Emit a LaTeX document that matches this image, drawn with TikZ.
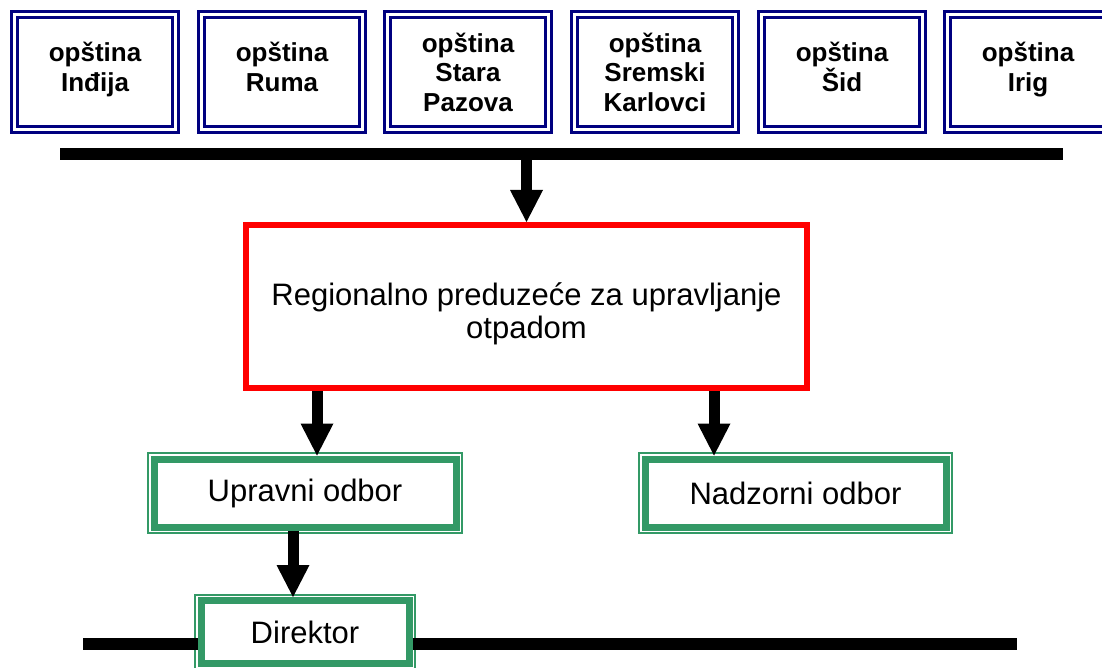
\documentclass[tikz,border=0pt]{standalone}
\usepackage{fontspec}
\setmainfont{Liberation Sans}
\usetikzlibrary{arrows.meta}
\definecolor{tamnoplava}{RGB}{0,0,128}
\definecolor{zelena}{RGB}{51,153,102}
\tikzset{opstina/.style = {shape = rectangle, draw = tamnoplava, line width = 3pt, double = white, double distance = 3pt, minimum width = 161pt, minimum height = 115pt, inner sep = 0pt, align = center, font = \fontsize{26}{29.5}\selectfont\bfseries}}
\tikzset{preduzece/.style = {shape = rectangle, draw = red, line width = 6pt, minimum width = 561pt, minimum height = 163pt, inner sep = 0pt, align = center, text height = 70pt, font = \fontsize{31}{33}\selectfont}}
\tikzset{odbor/.style = {shape = rectangle, draw = zelena, line width = 7pt, inner sep = 0pt, font = \fontsize{31}{34}\selectfont}}
\tikzset{okvir/.style = {draw = zelena, line width = 2pt}}
\tikzset{sabirnica/.style = {line width = 12pt}}
\tikzset{strelica/.style = {line width = 11pt, -{Triangle[width = 33pt, length = 32pt, line width = 0pt]}}}

\begin{document}
\begin{tikzpicture}[x = 1pt, y = -1pt]
			\path[use as bounding box, clip] (0, 0) rectangle (1102, 668);

			\node[opstina, text depth = 10pt] (indjija) at (95, 72) {opština\\Inđija};
			\node[opstina, text depth = 10pt] (ruma) at (282, 72) {opština\\Ruma};
			\node[opstina] (stara) at (468, 72) {opština\\Stara\\Pazova};
			\node[opstina] (sremski) at (655, 72) {opština\\Sremski\\Karlovci};
			\node[opstina, text depth = 10pt] (sid) at (842, 72) {opština\\Šid};
			\node[opstina, text depth = 10pt] (irig) at (1028, 72) {opština\\Irig};

			\node[preduzece] (rpuo) at (526.5, 306.5) {Regionalno preduzeće za upravljanje\\otpadom};
			\node[odbor, minimum width = 302pt, minimum height = 68pt] (upravni) at (305, 493) {Upravni odbor};
			\node[odbor, minimum width = 301pt, minimum height = 68pt] (nadzorni) at (795.5, 493) {Nadzorni odbor};
			\node[odbor, minimum width = 208pt, minimum height = 63pt] (direktor) at (305, 632) {Direktor};

			\draw[okvir] ([shift = {(-2.5pt, 2.5pt)}]upravni.north west) rectangle ([shift = {(2.5pt, -2.5pt)}]upravni.south east);
			\draw[okvir] ([shift = {(-2.5pt, 2.5pt)}]nadzorni.north west) rectangle ([shift = {(2.5pt, -2.5pt)}]nadzorni.south east);
			\draw[okvir] ([shift = {(-2.5pt, 2.5pt)}]direktor.north west) rectangle ([shift = {(2.5pt, -2.5pt)}]direktor.south east);

			\coordinate (gore1) at (60, 154);
			\coordinate (gore2) at (1063, 154);
			\coordinate (dole1) at (83, 644);
			\coordinate (dole2) at (1017, 644);

			\draw[sabirnica] (gore1) -- (gore2);
			\draw[sabirnica] (dole1) -- (dole1 -| direktor.west);
			\draw[sabirnica] (dole2 -| direktor.east) -- (dole2);

			\draw[strelica] (gore1 -| rpuo.north) -- (rpuo.north);
			\draw[strelica] (rpuo.south -| 317, 0) -- (upravni.north -| 317, 0);
			\draw[strelica] (rpuo.south -| 714, 0) -- (nadzorni.north -| 714, 0);
			\draw[strelica] (upravni.south -| 293, 0) -- (direktor.north -| 293, 0);
		\end{tikzpicture}
\end{document}
